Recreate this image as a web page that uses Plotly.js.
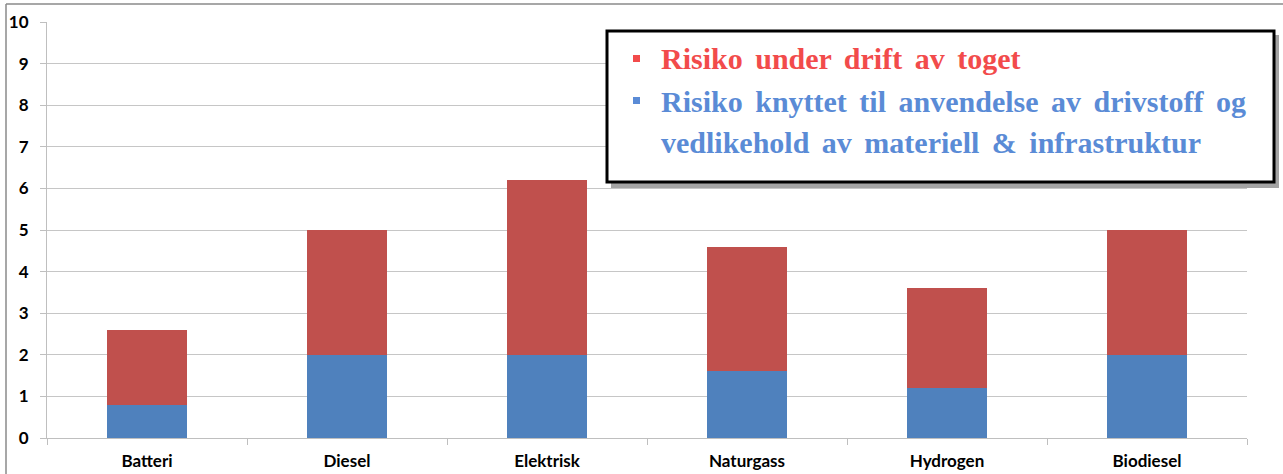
<!DOCTYPE html>
<html>
<head>
<meta charset="utf-8">
<script src="https://cdn.plot.ly/plotly-3.0.1.min.js"></script>
<style>
html,body{margin:0;padding:0;background:#fff;}
#chart{width:1283px;height:474px;}
.annotation-text{word-spacing:5px;}
</style>
</head>
<body>
<div id="chart"></div>
<script>
var categories = ["Batteri", "Diesel", "Elektrisk", "Naturgass", "Hydrogen", "Biodiesel"];
var fuelRisk = [0.8, 2.0, 2.0, 1.6, 1.2, 2.0];
var operationRisk = [1.8, 3.0, 4.2, 3.0, 2.4, 3.0];
var yTicks = [0, 1, 2, 3, 4, 5, 6, 7, 8, 9, 10];
var seriesNames = ["Risiko knyttet til anvendelse av drivstoff og vedlikehold av materiell & infrastruktur", "Risiko under drift av toget"];

var L = 47, R = 36, T = 22, B = 36, W = 1283, H = 474;
var pw = W - L - R, ph = H - T - B;
function px(x) { return (x - L) / pw; }
function py(y) { return (H - B - y) / ph; }

var traces = [
  {type: "bar", x: categories, y: fuelRisk, name: seriesNames[0], marker: {color: "#4f81bd"}, width: 0.4},
  {type: "bar", x: categories, y: operationRisk, name: seriesNames[1], marker: {color: "#c0504d"}, width: 0.4}
];

var legendFont = {family: "Liberation Serif", size: 30, weight: "bold"};
var red = "#f24b4b", blue = "#5a8bd6";
var tickFont = {family: "Lato", size: 17, weight: "bold", color: "#000"};

var layout = {
  width: W, height: H,
  margin: {l: L, r: R, t: T, b: B, pad: 0},
  paper_bgcolor: "#ffffff", plot_bgcolor: "#ffffff",
  barmode: "stack",
  showlegend: false,
  xaxis: {
    type: "category",
    showgrid: false, showline: true, linecolor: "#bfbfbf", linewidth: 1,
    ticks: "outside", tickson: "boundaries", ticklen: 6, tickcolor: "#bfbfbf",
    ticklabelstandoff: 8,
    tickfont: tickFont,
    fixedrange: true
  },
  yaxis: {
    range: [0, 10], tickvals: yTicks, ticktext: yTicks.map(String),
    showgrid: true, gridcolor: "#c6c6c6", gridwidth: 1,
    showline: true, linecolor: "#bfbfbf", linewidth: 1,
    ticks: "outside", ticklen: 6, tickcolor: "#bfbfbf",
    ticklabelstandoff: 8,
    zeroline: false,
    tickfont: tickFont,
    fixedrange: true
  },
  shapes: [
    {type: "line", xref: "paper", yref: "paper", x0: px(6), x1: px(1283), y0: py(4), y1: py(4), line: {color: "#8a8a8a", width: 1.5}},
    {type: "line", xref: "paper", yref: "paper", x0: px(6), x1: px(6), y0: py(4), y1: py(474), line: {color: "#8a8a8a", width: 1.5}},
    {type: "rect", xref: "paper", yref: "paper", x0: px(611), x1: px(1279), y0: py(35), y1: py(188), line: {width: 0}, fillcolor: "rgba(90,90,90,0.55)", layer: "above"},
    {type: "rect", xref: "paper", yref: "paper", x0: px(607), x1: px(1274), y0: py(31), y1: py(182), line: {color: "#000", width: 3}, fillcolor: "#ffffff", layer: "above"},
    {type: "rect", xref: "paper", yref: "paper", x0: px(633), x1: px(640), y0: py(55), y1: py(62), line: {width: 0}, fillcolor: red, layer: "above"},
    {type: "rect", xref: "paper", yref: "paper", x0: px(633), x1: px(640), y0: py(97), y1: py(104), line: {width: 0}, fillcolor: blue, layer: "above"}
  ],
  annotations: [
    {xref: "paper", yref: "paper", x: px(659), y: py(58), xanchor: "left", yanchor: "middle", showarrow: false, text: "Risiko under drift av toget", font: Object.assign({color: red}, legendFont)},
    {xref: "paper", yref: "paper", x: px(659), y: py(101), xanchor: "left", yanchor: "middle", showarrow: false, text: "Risiko knyttet til anvendelse av drivstoff og", font: Object.assign({color: blue}, legendFont)},
    {xref: "paper", yref: "paper", x: px(659), y: py(142), xanchor: "left", yanchor: "middle", showarrow: false, text: "vedlikehold av materiell &amp; infrastruktur", font: Object.assign({color: blue}, legendFont)}
  ]
};

Plotly.newPlot("chart", traces, layout, {displayModeBar: false, staticPlot: true});
</script>
</body>
</html>
